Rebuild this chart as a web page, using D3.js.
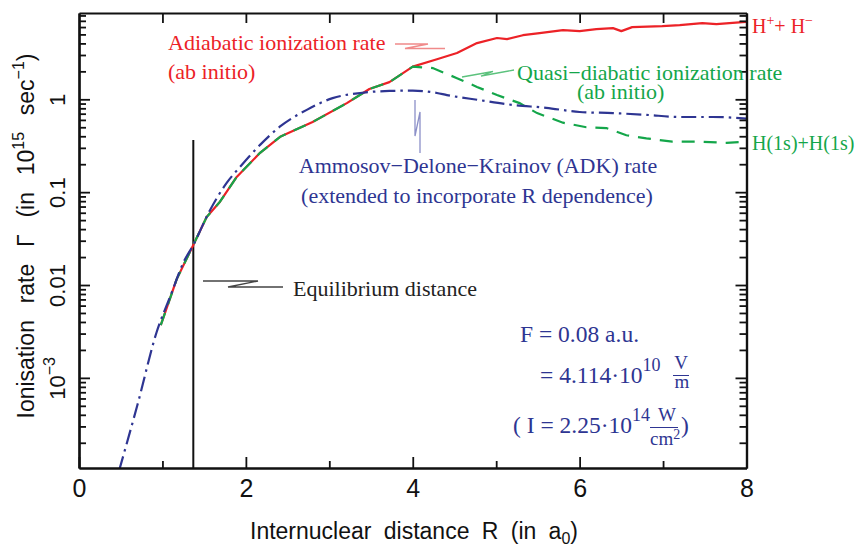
<!DOCTYPE html>
<html><head><meta charset="utf-8">
<script src="https://cdn.jsdelivr.net/npm/d3@7"></script>
<style>
html,body{margin:0;padding:0;background:#fff;}
svg{display:block;}
.serif{font-family:"Liberation Serif","Times New Roman",serif;}
.sans{font-family:"Liberation Sans",Arial,Helvetica,sans-serif;}
</style></head><body>
<svg id="chart" width="857" height="547"></svg>
<script>
// Ionisation rate of H2 in a static field versus internuclear distance R (a0)
const adiabaticR    = [0.98,1.17,1.37,1.53,1.69,1.89,2.17,2.41,2.80,3.21,3.48,3.72,4.00,4.29,4.53,4.77,5.01,5.13,5.32,5.52,5.80,6.00,6.20,6.40,6.50,6.63,6.99,7.20,7.47,7.64,7.95,8.00];
const adiabaticRate = [0.0037,0.0115,0.027,0.054,0.079,0.146,0.265,0.394,0.57,0.91,1.29,1.53,2.25,2.70,3.15,4.03,4.57,4.45,4.90,5.16,5.56,5.42,5.70,5.84,5.42,5.99,6.14,6.30,6.60,6.45,6.77,6.80];

const quasiR    = [0.98,1.17,1.37,1.53,1.69,1.89,2.17,2.41,2.80,3.21,3.48,3.72,4.00,4.24,4.53,4.77,5.01,5.28,5.49,5.80,6.08,6.32,6.56,6.80,7.11,7.44,7.76,8.00];
const quasiRate = [0.0037,0.0115,0.027,0.054,0.079,0.146,0.265,0.394,0.57,0.91,1.29,1.53,2.25,2.17,1.69,1.36,1.11,0.91,0.71,0.56,0.50,0.49,0.41,0.38,0.35,0.35,0.34,0.35];

const adkR    = [0.48,0.70,0.93,1.10,1.25,1.37,1.57,1.77,1.93,2.17,2.41,2.73,3.04,3.37,3.72,4.00,4.29,4.41,4.80,5.20,5.60,6.00,6.40,6.80,7.20,7.59,8.00];
const adkRate = [1.0e-4,5.1e-4,0.0031,0.0078,0.0174,0.027,0.064,0.126,0.187,0.323,0.51,0.77,1.03,1.17,1.23,1.24,1.17,1.11,0.98,0.87,0.81,0.73,0.71,0.68,0.645,0.645,0.62];

const equilibriumR = 1.37;
const equilibriumTop = 0.365;

const xMajorTicks = [0,2,4,6,8];
const xMinorTicks = [1,3,5,7];
const yDecadeTicks = [1e-3,0.01,0.1,1];

const RED = "#ec2227", GREEN = "#14a64a", BLUE = "#2e3592";

const svg = d3.select("#chart");
const plotLeft = 79, plotRight = 746.5, plotTop = 13, plotBottom = 468;

const x = d3.scaleLinear().domain([0, 8]).range([plotLeft, plotRight]);
const y = d3.scaleLog().domain([1.07e-4, 8.5]).range([plotBottom, plotTop]);

// minor log ticks 2..9 per decade inside the domain
const yMinorTicks = [];
for (let e = -4; e <= 0; e++) for (let k = 2; k <= 9; k++) {
  const v = k * Math.pow(10, e);
  if (v > y.domain()[0] && v < y.domain()[1]) yMinorTicks.push(v);
}

svg.append("defs").append("clipPath").attr("id", "plotClip")
  .append("rect").attr("x", plotLeft).attr("y", plotTop)
  .attr("width", plotRight - plotLeft).attr("height", plotBottom - plotTop);

// equilibrium marker
svg.append("line")
  .attr("x1", x(equilibriumR)).attr("x2", x(equilibriumR))
  .attr("y1", y(equilibriumTop)).attr("y2", plotBottom)
  .attr("stroke", "#111").attr("stroke-width", 2);

const plot = svg.append("g").attr("clip-path", "url(#plotClip)");
const lineGen = d3.line().x(d => x(d[0])).y(d => y(d[1]));

plot.append("path")
  .datum(d3.zip(adiabaticR, adiabaticRate))
  .attr("d", lineGen).attr("fill", "none")
  .attr("stroke", RED).attr("stroke-width", 2.2).attr("stroke-linejoin", "round");

plot.append("path")
  .datum(d3.zip(quasiR, quasiRate))
  .attr("d", lineGen).attr("fill", "none")
  .attr("stroke", GREEN).attr("stroke-width", 2.2)
  .attr("stroke-dasharray", "13,9");

plot.append("path")
  .datum(d3.zip(adkR, adkRate))
  .attr("d", d3.line().x(d => x(d[0])).y(d => y(d[1])).curve(d3.curveMonotoneX)).attr("fill", "none")
  .attr("stroke", BLUE).attr("stroke-width", 2.2)
  .attr("stroke-dasharray", "15,5,2.5,5");

// axes: inward ticks on all four sides
function styleAxis(g) {
  g.selectAll("path.domain").attr("stroke", "#111").attr("stroke-width", 2.2);
  g.selectAll(".tick line").attr("stroke", "#111").attr("stroke-width", 1.8);
  g.selectAll(".tick text").remove();
}
const noLabel = () => "";

svg.append("g").attr("transform", `translate(0,${plotBottom})`)
  .call(d3.axisBottom(x).tickValues(xMajorTicks).tickSizeInner(-11).tickSizeOuter(0).tickFormat(noLabel)).call(styleAxis);
svg.append("g").attr("transform", `translate(0,${plotBottom})`)
  .call(d3.axisBottom(x).tickValues(xMinorTicks).tickSizeInner(-7).tickSizeOuter(0).tickFormat(noLabel)).call(styleAxis);
svg.append("g").attr("transform", `translate(0,${plotTop})`)
  .call(d3.axisTop(x).tickValues(d3.range(1, 8)).tickSizeInner(-10).tickSizeOuter(0).tickFormat(noLabel)).call(styleAxis);

svg.append("g").attr("transform", `translate(${plotLeft},0)`)
  .call(d3.axisLeft(y).tickValues(yDecadeTicks).tickSizeInner(-11).tickSizeOuter(0).tickFormat(noLabel)).call(styleAxis);
svg.append("g").attr("transform", `translate(${plotLeft},0)`)
  .call(d3.axisLeft(y).tickValues(yMinorTicks).tickSizeInner(-7).tickSizeOuter(0).tickFormat(noLabel)).call(styleAxis);
svg.append("g").attr("transform", `translate(${plotRight},0)`)
  .call(d3.axisRight(y).tickValues(yDecadeTicks).tickSizeInner(-11).tickSizeOuter(0).tickFormat(noLabel)).call(styleAxis);
svg.append("g").attr("transform", `translate(${plotRight},0)`)
  .call(d3.axisRight(y).tickValues(yMinorTicks).tickSizeInner(-7).tickSizeOuter(0).tickFormat(noLabel)).call(styleAxis);

// x tick labels
const xLab = svg.append("g").attr("transform", `translate(0,${plotBottom})`)
  .call(d3.axisBottom(x).tickValues(xMajorTicks).tickSize(0).tickPadding(12).tickFormat(d3.format("d")));
xLab.select("path.domain").remove();
xLab.selectAll(".tick text").attr("class", "sans").attr("font-size", 25).attr("fill", "#111")
  .attr("dy", null).attr("y", 29);

// y tick labels, rotated
const yLab = svg.append("g").attr("transform", `translate(${plotLeft},0)`)
  .call(d3.axisLeft(y).tickValues(yDecadeTicks).tickSize(0).tickFormat(d => d >= 0.01 ? String(d) : ""));
yLab.select("path.domain").remove();
yLab.selectAll(".tick text")
  .attr("class", "sans").attr("font-size", 22).attr("fill", "#111")
  .attr("x", null).attr("dy", null).attr("text-anchor", "middle")
  .attr("transform", "translate(-14,0) rotate(-90)")
  .each(function(d) {
    if (d < 0.01) {
      const t = d3.select(this);
      t.append("tspan").text("10");
      t.append("tspan").attr("font-size", 16).attr("dy", -10).text("\u22123");
    }
  });

// spread the words of a title so that it spans a given length
function spreadTo(textSel, length, gaps) {
  textSel.attr("word-spacing", 0);
  const w = textSel.node().getBBox().width;
  textSel.attr("word-spacing", Math.max(0, (length - w) / gaps));
}

// axis titles
const xt = svg.append("text").attr("class", "sans").attr("font-size", 23).attr("fill", "#111")
  .attr("text-anchor", "middle").attr("x", 414).attr("y", 539);
xt.append("tspan").text("Internuclear distance R (in a");
xt.append("tspan").attr("font-size", 16).attr("dy", 5).text("0");
xt.append("tspan").attr("dy", -5).text(")");
spreadTo(xt, 328, 4);

const yt = svg.append("text").attr("class", "sans").attr("font-size", 23).attr("fill", "#111")
  .attr("text-anchor", "middle")
  .attr("transform", "translate(34,236) rotate(-90)");
yt.append("tspan").text("Ionisation rate \u0393 (in 10");
yt.append("tspan").attr("font-size", 16).attr("dy", -10).text("15");
yt.append("tspan").attr("dy", 10).text(" sec");
yt.append("tspan").attr("font-size", 16).attr("dy", -10).text("\u22121");
yt.append("tspan").attr("dy", 10).text(")");
spreadTo(yt, 365, 5);

// annotations
function serifText(txt, px, py, color, size, anchor) {
  return svg.append("text").attr("class", "serif").attr("x", px).attr("y", py)
    .attr("fill", color).attr("font-size", size || 22).attr("text-anchor", anchor || "start").text(txt);
}
function leader(points, color) {
  svg.append("path").attr("d", d3.line()(points)).attr("fill", "none")
    .attr("stroke", color).attr("stroke-width", 1.3);
}

serifText("Adiabatic ionization rate", 168, 50, RED);
serifText("(ab initio)", 168, 79, RED);
leader([[395,44],[428,44],[405,48.5],[445,48.5]], "#f08a8a");

serifText("Quasi\u2212diabatic ionization rate", 517, 80, GREEN);
serifText("(ab initio)", 577, 99, GREEN);
leader([[462,77],[493,71.5],[481,76],[514,70]], "#5cc27d");

serifText("Ammosov\u2212Delone\u2212Krainov (ADK) rate", 478, 173, BLUE, 22, "middle");
serifText("(extended to incorporate R dependence)", 477, 203, BLUE, 22, "middle");
leader([[415,100],[415,136],[420,112],[420,153]], "#8c90c8");

serifText("Equilibrium distance", 293, 296, "#222");
leader([[203,281],[258,281],[228,287],[283,287]], "#444");

// asymptotic channel labels
const hp = serifText("", 752, 33, RED, 20);
hp.append("tspan").text("H");
hp.append("tspan").attr("font-size", 14).attr("dy", -8).text("+");
hp.append("tspan").attr("dy", 8).text("+ H");
hp.append("tspan").attr("font-size", 14).attr("dy", -8).text("\u2212");
serifText("H(1s)+H(1s)", 752, 150, GREEN, 20);

// field strength box
serifText("F = 0.08 a.u.", 520, 342, BLUE, 23.5);
const l2 = serifText("", 540, 383, BLUE, 23.5);
l2.append("tspan").text("= 4.114\u00b710");
l2.append("tspan").attr("font-size", 18).attr("dy", -12).text("10");
serifText("V", 681, 369, BLUE, 19, "middle");
svg.append("line").attr("x1", 673).attr("x2", 689).attr("y1", 375.5).attr("y2", 375.5).attr("stroke", BLUE).attr("stroke-width", 1);
serifText("m", 682, 388, BLUE, 19, "middle");

const l3 = serifText("", 513, 433, BLUE, 23.5);
l3.append("tspan").text("( I = 2.25\u00b710");
l3.append("tspan").attr("font-size", 18).attr("dy", -12).text("14");
serifText("W", 667, 421, BLUE, 19, "middle");
svg.append("line").attr("x1", 650).attr("x2", 678).attr("y1", 427.5).attr("y2", 427.5).attr("stroke", BLUE).attr("stroke-width", 1);
const cm = serifText("", 650, 445, BLUE, 19);
cm.append("tspan").text("cm");
cm.append("tspan").attr("font-size", 14).attr("dy", -6).text("2");
serifText(")", 681, 433, BLUE, 23.5);
</script></body></html>
